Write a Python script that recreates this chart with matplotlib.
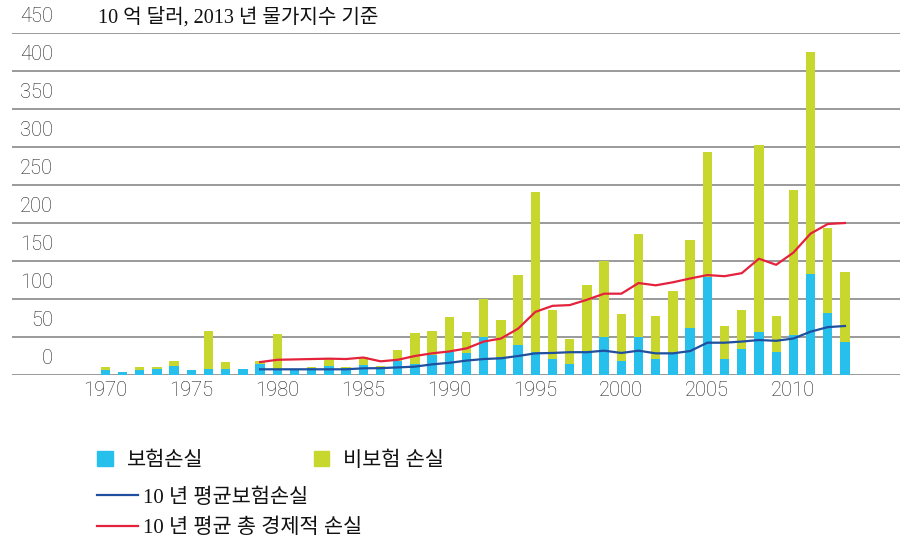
import numpy as np
import matplotlib
matplotlib.use("Agg")
import matplotlib.pyplot as plt
from matplotlib.patches import Patch
from matplotlib.lines import Line2D

years = np.arange(1970, 2014)

insured = [6, 3.5, 6.5, 8, 12, 6, 7.5, 7.5, 7.5, 14,
           7.5, 6, 9, 12, 9, 13, 9, 18, 14.5, 26,
           32, 29, 50, 24, 40, 30, 21, 15, 31, 50,
           18, 50, 21, 28, 62, 129, 21, 34, 57, 30,
           53, 133, 81, 44]
uninsured = [5, 0, 4.5, 3, 6.5, 0, 50.5, 10, 0, 5,
             46.5, 0, 2, 10, 2, 11, 3, 15, 40.5, 32,
             44, 27, 50, 49, 91, 211, 64, 32, 87, 100,
             62, 135, 57, 83, 116, 165, 43, 52, 245, 47,
             190, 292, 113, 91]

avg_years = np.arange(1979, 2014)
avg_insured = [7.5, 7.5, 7.5, 7.5, 7.5, 7.5, 8.8, 9, 10, 11,
               14, 16, 19, 21, 22, 25, 28.5, 29, 30, 30,
               32, 29, 32, 28.5, 28.5, 31.5, 42.5, 42.5, 44, 46,
               45, 48, 57, 63, 64.5]
avg_total = [17, 20, 20.5, 21, 21.5, 21, 23, 18, 20, 25,
             28.5, 31, 35, 44, 48, 61, 83, 91, 92, 99,
             107, 107, 121, 118, 122, 127, 131.5, 130, 134, 153,
             145, 161, 186, 198.7, 200]

y_ticks = list(range(0, 451, 50))
x_ticks = [1970, 1975, 1980, 1985, 1990, 1995, 2000, 2005, 2010]

c_ins = "#27bfec"
c_unins = "#c8d72e"
c_blue = "#1f4f9e"
c_red = "#e5223c"
grid_c = "#9a9a9a"
num_c = "#222222"
kfont = ["Liberation Serif", "Noto Sans CJK KR"]

fig = plt.figure(figsize=(9.05, 5.44), dpi=100)
ax = fig.add_axes([12 / 905, 169 / 544, 888 / 905, 342 / 544])

ax.bar(years, insured, width=0.54, color=c_ins, zorder=2)
ax.bar(years, uninsured, width=0.54, bottom=insured, color=c_unins, zorder=2)
ax.plot(avg_years, avg_insured, color=c_blue, lw=1.6, zorder=3)
ax.plot(avg_years, avg_total, color=c_red, lw=1.6, zorder=3)

ax.set_xlim(1964.576, 2016.2)
ax.set_ylim(0, 450)
for s in ax.spines.values():
    s.set_visible(False)
ax.set_yticks(y_ticks)
ax.yaxis.grid(True, color=grid_c, lw=1.4, zorder=0)
ax.tick_params(axis="y", length=0, labelleft=False)
for v in y_ticks:
    ax.text(0.0462, v + 9, str(v), transform=ax.get_yaxis_transform(),
            ha="right", va="bottom", fontsize=14.5, color=num_c,
            family="Roboto", weight="light")

ax.set_xticks(x_ticks)
ax.tick_params(axis="x", length=0, pad=4, labelsize=14.5, labelcolor=num_c)
for lab in ax.get_xticklabels():
    lab.set_family("Roboto")
    lab.set_weight("light")

fig.text(98 / 905, 1 - 17 / 544, "10 억 달러, 2013 년 물가지수 기준",
         ha="left", va="center", fontsize=14.5, family=kfont, color="#111111")

h1 = [Patch(color=c_ins), Patch(color=c_unins)]
leg1 = fig.legend(h1, ["보험손실", "비보험 손실"], ncol=2, loc="center left",
                  bbox_to_anchor=(97 / 905, 1 - 461 / 544), frameon=False,
                  handlelength=0.75, handleheight=0.75, handletextpad=0.67,
                  columnspacing=5.3, borderpad=0, borderaxespad=0,
                  prop={"family": kfont, "size": 15})
h2 = [Line2D([], [], color=c_blue, lw=1.6), Line2D([], [], color=c_red, lw=1.6)]
leg2 = fig.legend(h2, ["10 년 평균보험손실", "10 년 평균 총 경제적 손실"], loc="center left",
                  bbox_to_anchor=(97 / 905, 1 - 513 / 544), frameon=False,
                  handlelength=1.95, handletextpad=0.25, labelspacing=0.5,
                  borderpad=0, borderaxespad=0,
                  prop={"family": kfont, "size": 15})
for t in leg1.get_texts() + leg2.get_texts():
    t.set_color("#111111")

fig.savefig("out.png", dpi=100)
